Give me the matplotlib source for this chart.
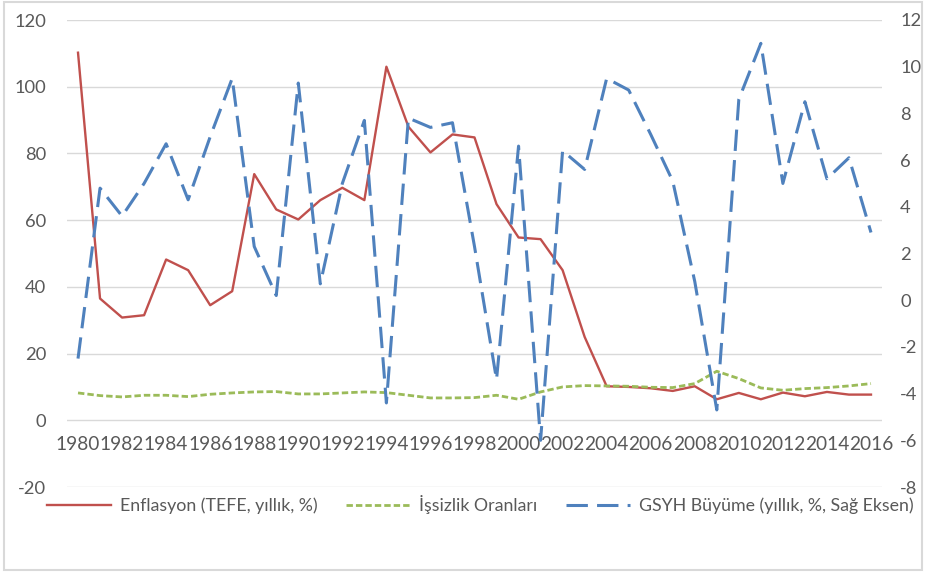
import matplotlib.pyplot as plt
from matplotlib.patches import Rectangle

plt.rcParams['font.family'] = ['Lato', 'DejaVu Sans']
plt.rcParams['axes.unicode_minus'] = False

years = list(range(1980, 2017))

# Enflasyon (TEFE, yillik, %) - left axis
inflation = [110.2, 36.5, 30.8, 31.5, 48.2, 45.0, 34.5, 38.7, 73.8, 63.2,
             60.2, 66.0, 69.7, 66.0, 106.0, 88.0, 80.3, 85.7, 84.8, 64.8,
             54.8, 54.3, 45.0, 25.0, 10.2, 10.0, 9.6, 8.8, 10.2, 6.3,
             8.2, 6.3, 8.3, 7.2, 8.5, 7.7, 7.7]

# Issizlik oranlari - left axis
unemployment = [8.2, 7.4, 7.0, 7.5, 7.5, 7.1, 7.8, 8.2, 8.5, 8.6,
                7.9, 7.9, 8.2, 8.5, 8.3, 7.5, 6.7, 6.7, 6.8, 7.5,
                6.3, 8.5, 10.0, 10.4, 10.3, 10.2, 9.9, 9.8, 11.0, 14.7,
                12.5, 9.7, 9.0, 9.5, 9.8, 10.3, 11.0]

# GSYH buyume (yillik, %) - right axis
gdp = [-2.5, 4.8, 3.6, 5.0, 6.7, 4.3, 7.0, 9.5, 2.3, 0.2,
       9.3, 0.7, 5.0, 7.7, -4.4, 7.8, 7.4, 7.6, 2.3, -3.4,
       6.6, -6.0, 6.4, 5.6, 9.5, 9.0, 7.1, 5.1, 0.8, -4.7,
       8.6, 11.0, 5.0, 8.5, 5.2, 6.1, 2.9]

labels = ['Enflasyon (TEFE, yıllık, %)', 'İşsizlik Oranları',
          'GSYH Büyüme (yıllık, %, Sağ Eksen)']

grey = '#595959'

fig = plt.figure(figsize=(9.27, 5.74), dpi=100)
ax = fig.add_axes([67 / 927, 1 - 487 / 574, 815 / 927, 467 / 574])
ax2 = ax.twinx()

l1, = ax.plot(years, inflation, color='#C0504D', lw=1.7, zorder=3)
l2, = ax.plot(years, unemployment, color='#9BBB59', lw=2.0,
              dashes=(2.3, 1.1), zorder=3)
l3, = ax2.plot(years, gdp, color='#4F81BD', lw=2.2, dashes=(7, 3))

ax.set_xlim(1979.5, 2016.5)
ax.set_ylim(-20, 120)
ax.set_yticks(range(-20, 121, 20))
ax2.set_ylim(-8, 12)
ax2.set_yticks(range(-8, 13, 2))

ax.grid(axis='y', color='#d9d9d9', lw=1)
ax.set_axisbelow(True)
for a in (ax, ax2):
    for s in a.spines.values():
        s.set_visible(False)

ax.spines['bottom'].set_position(('data', 0))
ax.set_xticks(years[::2])
ax.set_xticklabels([str(y) for y in years[::2]])
ax.tick_params(axis='x', length=0, pad=11, labelsize=13.8, labelcolor=grey)
ax.tick_params(axis='y', length=0, pad=15, labelsize=13.2, labelcolor=grey)
ax2.tick_params(axis='y', length=0, pad=13, labelsize=13.2, labelcolor=grey)

fig.legend([l1, l2, l3], labels, loc='center', bbox_to_anchor=(0.518, 1 - 505 / 574),
           ncol=3, frameon=False, fontsize=12.8, labelcolor=grey,
           handlelength=3.6, handletextpad=0.5, columnspacing=1.6)

fig.patches.append(Rectangle((4 / 927, 4 / 574), 918 / 927, 568 / 574,
                             transform=fig.transFigure, fill=False,
                             edgecolor='#d9d9d9', lw=1.5))

fig.savefig('out.png', dpi=100)
